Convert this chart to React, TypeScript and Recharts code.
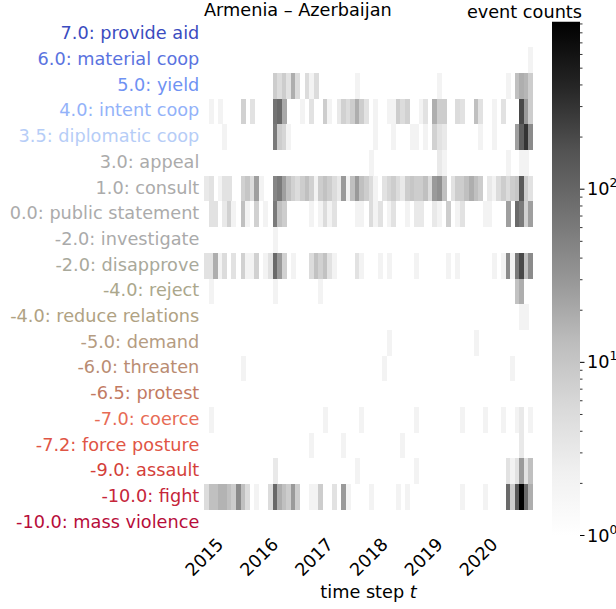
import React from 'react';
import { BarChart, Bar, XAxis, YAxis, Cell } from 'recharts';

// event categories, top to bottom
const categories = [
  '7.0: provide aid',
  '6.0: material coop',
  '5.0: yield',
  '4.0: intent coop',
  '3.5: diplomatic coop',
  '3.0: appeal',
  '1.0: consult',
  '0.0: public statement',
  '-2.0: investigate',
  '-2.0: disapprove',
  '-4.0: reject',
  '-4.0: reduce relations',
  '-5.0: demand',
  '-6.0: threaten',
  '-6.5: protest',
  '-7.0: coerce',
  '-7.2: force posture',
  '-9.0: assault',
  '-10.0: fight',
  '-10.0: mass violence',
];

const labelColors = [
  '#3b4cc0', '#5a73e0', '#6f92f3', '#93b2f9', '#b6cdf7',
  '#ababab', '#ababab', '#ababab', '#aaaaaa', '#a9a99b',
  '#aba78c', '#b0a283', '#b59c82', '#b98c72', '#c27a62',
  '#e76b55', '#df5545', '#d43f3a', '#c6263a', '#b70d3a',
];

// monthly event counts, one array per category (72 months)
const provideAid = [
  0, 0, 0, 0, 0, 0, 0, 0, 0, 0, 0, 0,
  0, 0, 0, 0, 0, 0, 0, 0, 0, 0, 0, 0,
  0, 0, 0, 0, 0, 0, 0, 0, 0, 0, 0, 0,
  0, 0, 0, 0, 0, 0, 0, 0, 0, 0, 0, 0,
  0, 0, 0, 0, 0, 0, 0, 0, 0, 0, 0, 0,
  0, 0, 0, 0, 0, 0, 0, 0, 0, 0, 0, 0,
];
const materialCoop = [
  0, 0, 0, 0, 0, 0, 0, 0, 0, 0, 0, 0,
  0, 0, 0, 0, 0, 0, 0, 0, 0, 0, 0, 0,
  0, 0, 0, 0, 0, 0, 0, 0, 0, 0, 0, 0,
  0, 0, 0, 0, 0, 0, 0, 0, 0, 0, 0, 0,
  0, 0, 0, 0, 0, 0, 0, 0, 0, 0, 0, 0,
  0, 0, 0, 0, 0, 0, 0, 0, 0, 0, 0, 2,
];
const yieldCounts = [
  0, 0, 0, 0, 0, 0, 0, 0, 0, 0, 0, 0,
  0, 0, 0, 8, 5, 8, 4, 18, 5, 0, 5, 2,
  5, 0, 0, 0, 0, 0, 0, 0, 0, 2, 0, 0,
  0, 0, 0, 0, 0, 0, 0, 0, 0, 0, 0, 0,
  0, 0, 0, 2, 0, 0, 0, 0, 0, 0, 0, 0,
  0, 0, 0, 0, 0, 0, 2, 0, 12, 18, 15, 8,
];
const intentCoop = [
  0, 2, 0, 2, 0, 0, 0, 0, 7, 0, 4, 0,
  0, 0, 0, 70, 90, 20, 0, 0, 0, 2, 0, 4,
  0, 0, 8, 2, 0, 3, 7, 5, 8, 18, 8, 4,
  0, 2, 0, 0, 2, 2, 8, 5, 7, 0, 0, 2,
  4, 0, 18, 8, 8, 0, 0, 5, 4, 0, 0, 12,
  4, 0, 0, 2, 0, 4, 0, 0, 0, 200, 28, 8,
];
const diplomaticCoop = [
  0, 0, 0, 0, 2, 0, 0, 0, 0, 0, 0, 0,
  0, 0, 0, 60, 8, 6, 2, 0, 0, 0, 0, 0,
  0, 0, 0, 0, 0, 0, 0, 0, 0, 0, 0, 0,
  0, 2, 0, 0, 0, 2, 0, 0, 0, 2, 2, 0,
  2, 0, 7, 4, 3, 0, 0, 0, 0, 0, 0, 0,
  2, 0, 0, 2, 0, 0, 0, 0, 25, 120, 300, 40,
];
const appeal = [
  0, 0, 0, 0, 0, 0, 0, 0, 0, 0, 0, 0,
  0, 0, 0, 0, 0, 0, 0, 0, 0, 0, 0, 0,
  0, 0, 0, 0, 0, 0, 0, 0, 0, 0, 0, 0,
  2, 0, 0, 0, 0, 0, 0, 0, 0, 0, 0, 0,
  0, 0, 0, 3, 2, 0, 0, 0, 0, 0, 0, 0,
  0, 0, 0, 0, 0, 0, 2, 0, 0, 2, 2, 0,
];
const consult = [
  3, 4, 0, 2, 4, 4, 0, 0, 7, 10, 5, 25,
  2, 0, 0, 45, 60, 25, 12, 7, 5, 8, 12, 7,
  2, 8, 11, 8, 5, 3, 28, 2, 12, 28, 12, 8,
  5, 2, 0, 4, 6, 8, 5, 3, 8, 10, 8, 8,
  12, 5, 28, 35, 12, 0, 4, 8, 8, 12, 18, 12,
  8, 0, 3, 2, 5, 8, 5, 8, 10, 140, 8, 4,
];
const publicStatement = [
  0, 4, 4, 0, 3, 7, 2, 0, 12, 2, 0, 7,
  0, 2, 0, 60, 12, 8, 0, 0, 0, 0, 0, 2,
  0, 2, 5, 2, 4, 0, 0, 0, 0, 2, 2, 0,
  5, 2, 4, 0, 2, 4, 0, 0, 2, 0, 3, 3,
  0, 0, 3, 2, 0, 8, 0, 2, 4, 0, 0, 0,
  0, 2, 2, 0, 0, 0, 25, 0, 90, 60, 7, 25,
];
const investigate = [
  0, 0, 0, 0, 0, 0, 0, 0, 0, 0, 0, 0,
  0, 0, 0, 2, 0, 0, 0, 0, 0, 0, 0, 0,
  0, 0, 0, 0, 0, 0, 0, 0, 0, 0, 0, 0,
  0, 0, 0, 0, 0, 0, 0, 0, 0, 0, 0, 0,
  0, 0, 0, 0, 0, 0, 0, 0, 0, 0, 0, 0,
  0, 0, 0, 0, 0, 0, 0, 0, 0, 0, 0, 0,
];
const disapprove = [
  4, 4, 18, 2, 5, 0, 4, 0, 7, 2, 2, 7,
  0, 2, 4, 90, 28, 7, 0, 2, 0, 0, 0, 5,
  11, 7, 11, 4, 2, 0, 0, 0, 0, 4, 2, 0,
  0, 0, 2, 0, 2, 0, 0, 0, 0, 0, 2, 0,
  0, 0, 0, 0, 0, 2, 0, 2, 0, 0, 0, 0,
  0, 0, 0, 2, 0, 2, 40, 2, 60, 200, 12, 40,
];
const reject = [
  0, 2, 0, 0, 0, 0, 0, 0, 0, 0, 0, 0,
  0, 0, 0, 2, 0, 0, 0, 0, 0, 0, 0, 0,
  0, 2, 0, 0, 0, 0, 0, 0, 0, 0, 0, 0,
  0, 0, 0, 0, 0, 0, 0, 0, 0, 0, 0, 0,
  0, 0, 0, 0, 0, 0, 0, 0, 0, 0, 0, 0,
  0, 0, 0, 0, 0, 0, 0, 0, 11, 18, 0, 0,
];
const reduceRelations = [
  0, 0, 0, 0, 0, 0, 0, 0, 0, 0, 0, 0,
  0, 0, 0, 0, 0, 0, 0, 0, 0, 0, 0, 0,
  0, 0, 0, 0, 0, 0, 0, 0, 0, 0, 0, 0,
  0, 0, 0, 0, 0, 0, 0, 0, 0, 0, 0, 0,
  0, 0, 0, 0, 0, 0, 0, 0, 0, 0, 0, 0,
  0, 0, 0, 0, 0, 0, 0, 0, 0, 2, 2, 0,
];
const demand = [
  0, 0, 0, 0, 0, 0, 0, 0, 0, 0, 0, 0,
  0, 0, 0, 0, 0, 0, 0, 0, 0, 0, 0, 0,
  0, 0, 0, 0, 0, 0, 0, 0, 0, 0, 0, 0,
  0, 0, 0, 0, 2, 0, 0, 0, 0, 0, 0, 0,
  0, 0, 0, 0, 0, 0, 0, 0, 0, 0, 0, 2,
  0, 0, 0, 0, 0, 0, 0, 0, 0, 0, 0, 0,
];
const threaten = [
  0, 0, 0, 0, 0, 0, 0, 0, 2, 0, 0, 0,
  0, 0, 0, 0, 0, 0, 0, 0, 0, 0, 0, 0,
  0, 0, 0, 0, 0, 0, 0, 0, 0, 0, 0, 0,
  0, 0, 0, 2, 0, 0, 0, 0, 0, 0, 0, 0,
  0, 0, 0, 0, 0, 0, 0, 0, 0, 0, 0, 0,
  0, 0, 0, 0, 0, 0, 0, 2, 0, 0, 0, 0,
];
const protest = [
  0, 0, 0, 0, 0, 0, 0, 0, 0, 0, 0, 0,
  0, 0, 0, 0, 0, 0, 0, 0, 0, 0, 0, 0,
  0, 0, 0, 0, 0, 0, 0, 0, 0, 0, 0, 0,
  0, 0, 0, 0, 0, 0, 0, 0, 0, 0, 0, 0,
  0, 0, 0, 0, 0, 0, 0, 0, 0, 0, 0, 0,
  0, 0, 0, 0, 0, 0, 0, 0, 0, 0, 0, 0,
];
const coerce = [
  0, 2, 0, 0, 0, 0, 0, 0, 0, 0, 0, 0,
  0, 0, 0, 0, 0, 0, 0, 0, 0, 0, 0, 0,
  0, 0, 2, 0, 0, 0, 0, 0, 0, 0, 2, 0,
  0, 0, 0, 0, 0, 0, 0, 0, 0, 0, 2, 0,
  0, 0, 0, 0, 0, 0, 0, 0, 2, 0, 0, 0,
  0, 2, 0, 0, 0, 2, 0, 0, 2, 3, 0, 2,
];
const forcePosture = [
  0, 0, 0, 0, 0, 0, 0, 0, 0, 0, 0, 0,
  0, 0, 0, 0, 0, 0, 0, 0, 0, 0, 0, 2,
  0, 0, 0, 0, 0, 0, 2, 0, 0, 0, 0, 0,
  0, 0, 0, 0, 0, 0, 0, 2, 0, 0, 0, 0,
  0, 0, 0, 0, 0, 0, 0, 0, 0, 0, 0, 0,
  0, 0, 0, 0, 0, 0, 0, 0, 0, 3, 0, 0,
];
const assault = [
  0, 0, 0, 0, 0, 0, 0, 0, 0, 0, 0, 0,
  0, 0, 0, 3, 0, 0, 0, 0, 0, 0, 0, 0,
  0, 0, 0, 0, 0, 0, 0, 0, 0, 2, 0, 0,
  0, 0, 0, 0, 0, 0, 0, 0, 0, 0, 2, 0,
  0, 0, 0, 0, 0, 0, 0, 0, 0, 0, 0, 0,
  0, 0, 0, 0, 0, 0, 4, 2, 4, 28, 4, 12,
];
const fight = [
  5, 12, 12, 16, 16, 12, 8, 40, 12, 5, 0, 2,
  0, 0, 5, 95, 18, 12, 8, 28, 8, 0, 0, 2,
  2, 8, 0, 0, 4, 0, 28, 2, 0, 0, 0, 0,
  2, 0, 0, 0, 0, 0, 2, 0, 2, 0, 0, 0,
  0, 0, 0, 0, 0, 0, 0, 0, 2, 0, 0, 0,
  0, 2, 0, 0, 0, 0, 90, 8, 140, 900, 90, 18,
];
const massViolence = [
  0, 0, 0, 0, 0, 0, 0, 0, 0, 0, 0, 0,
  0, 0, 0, 0, 0, 0, 0, 0, 0, 0, 0, 0,
  0, 0, 0, 0, 0, 0, 0, 0, 0, 0, 0, 0,
  0, 0, 0, 0, 0, 0, 0, 0, 0, 0, 0, 0,
  0, 0, 0, 0, 0, 0, 0, 0, 0, 0, 0, 0,
  0, 0, 0, 0, 0, 0, 0, 0, 0, 0, 0, 0,
];

const rows = [
  provideAid, materialCoop, yieldCounts, intentCoop, diplomaticCoop,
  appeal, consult, publicStatement, investigate, disapprove,
  reject, reduceRelations, demand, threaten, protest,
  coerce, forcePosture, assault, fight, massViolence,
];

// time axis: monthly steps starting Sep 2014
const startYear = 2014;
const startMonth = 9;
const yearLabels = ['2015', '2016', '2017', '2018', '2019', '2020'];
const months = provideAid.map((_, i) => {
  const m = startMonth - 1 + i;
  return `${startYear + Math.floor(m / 12)}-${String((m % 12) + 1).padStart(2, '0')}`;
});

// colour bar
const vmax = 930;
const colorbarTicks = [
  1, 2, 3, 4, 5, 6, 7, 8, 9,
  10, 20, 30, 40, 50, 60, 70, 80, 90,
  100, 200, 300, 400, 500, 600, 700, 800, 900,
];
const greys = ['#ffffff', '#f0f0f0', '#d9d9d9', '#bdbdbd', '#969696', '#737373', '#525252', '#252525', '#000000'];

const FONT = 'DejaVu Sans';
const FS = 17.7;
const W = 616;
const H = 609;
const plotLeft = 204;
const plotRight = 533;
const plotTop = 21.5;
const plotBottom = 535.5;
const xAxisHeight = 60;

const greyFor = (count: number) => {
  if (count <= 1) return 'none';
  const t = Math.min(1, Math.log10(count) / Math.log10(vmax));
  const pos = t * (greys.length - 1);
  const i = Math.min(greys.length - 2, Math.floor(pos));
  const f = pos - i;
  const a = parseInt(greys[i].slice(1, 3), 16);
  const b = parseInt(greys[i + 1].slice(1, 3), 16);
  const v = Math.round(a + (b - a) * f);
  return `rgb(${v},${v},${v})`;
};

const n = categories.length;
const tableData = months.map((m) => {
  const d: any = { month: m };
  rows.forEach((_, r) => (d[`r${r}`] = 1));
  return d;
});
const rowTicks = categories.map((_, r) => n - 0.5 - r);

const YTick = (props: any) => {
  const { x, y, payload } = props;
  const r = Math.round(n - 0.5 - payload.value);
  return (
    <text x={x - 4.7} y={y} dy={5} textAnchor="end" fill={labelColors[r]} fontSize={FS} fontFamily={FONT}>
      {categories[r]}
    </text>
  );
};

const XTick = (props: any) => {
  const { x, y, payload } = props;
  const label = String(payload.value);
  if (!label.endsWith('-01')) return <g />;
  const year = label.slice(0, 4);
  if (!yearLabels.includes(year)) return <g />;
  const tx = x;
  const ty = y + 10;
  return (
    <text x={tx} y={ty} textAnchor="end" fontSize={FS} fontFamily={FONT} fill="#000" transform={`rotate(-45, ${tx}, ${ty})`}>
      {year}
    </text>
  );
};

const CbTick = (props: any) => {
  const { x, y, payload } = props;
  const v = payload.value;
  const exp = Math.log10(v);
  const major = Math.abs(exp - Math.round(exp)) < 1e-9;
  return (
    <g>
      <line x1={x} x2={x + (major ? 4.5 : 2.5)} y1={y} y2={y} stroke="#000" strokeWidth={major ? 1 : 0.8} />
      {major && (
        <text x={x + 7} y={y} dy={6} fontSize={FS} fontFamily={FONT} fill="#000">
          10
          <tspan dy={-8} fontSize={12.4}>{Math.round(exp)}</tspan>
        </text>
      )}
    </g>
  );
};

export default function App() {
  return (
    <div style={{ position: 'absolute', left: 0, top: 0, width: W, height: H, background: '#fff' }}>
      <div style={{ position: 'absolute', left: 0, top: 0 }}>
        <BarChart
          width={W}
          height={H}
          data={tableData}
          barCategoryGap={0}
          barGap={0}
          margin={{ top: plotTop, right: W - plotRight, bottom: H - plotBottom - xAxisHeight, left: 0 }}
        >
          <XAxis
            dataKey="month"
            type="category"
            interval={0}
            height={xAxisHeight}
            axisLine={false}
            tickLine={false}
            tickSize={0}
            tickMargin={0}
            tick={<XTick />}
          />
          <YAxis
            type="number"
            domain={[0, n]}
            ticks={rowTicks}
            interval={0}
            width={plotLeft}
            axisLine={false}
            tickLine={false}
            tickSize={0}
            tickMargin={0}
            tick={<YTick />}
          />
          {rows
            .map((row, r) => ({ row, r }))
            .reverse()
            .map(({ row, r }) => (
              <Bar key={r} dataKey={`r${r}`} stackId="heat" isAnimationActive={false}>
                {row.map((c, i) => (
                  <Cell key={i} fill={greyFor(c)} shapeRendering="crispEdges" />
                ))}
              </Bar>
            ))}
        </BarChart>
      </div>

      <div style={{ position: 'absolute', left: 0, top: 0 }}>
        <BarChart
          width={W}
          height={H}
          data={[{ name: 'counts', range: [1, vmax] }]}
          barCategoryGap={0}
          margin={{ top: plotTop, right: 0, bottom: H - plotBottom, left: 552 }}
        >
          <defs>
            <linearGradient id="cbGrad" x1="0" y1="0" x2="0" y2="1">
              {greys
                .slice()
                .reverse()
                .map((c, i) => (
                  <stop key={i} offset={i / (greys.length - 1)} stopColor={c} />
                ))}
            </linearGradient>
          </defs>
          <XAxis dataKey="name" hide />
          <YAxis
            type="number"
            scale="log"
            domain={[1, vmax]}
            allowDataOverflow
            orientation="right"
            ticks={colorbarTicks}
            interval={0}
            width={36}
            axisLine={false}
            tickLine={false}
            tickSize={0}
            tickMargin={0}
            tick={<CbTick />}
          />
          <Bar dataKey="range" fill="url(#cbGrad)" isAnimationActive={false} />
        </BarChart>
      </div>

      <svg width={W} height={H} style={{ position: 'absolute', left: 0, top: 0, pointerEvents: 'none' }}>
        <text x={plotLeft} y={16} fontSize={FS} fontFamily={FONT} fill="#000">
          Armenia – Azerbaijan
        </text>
        <text x={582} y={18} textAnchor="end" fontSize={FS} fontFamily={FONT} fill="#000">
          event counts
        </text>
        <text x={(plotLeft + plotRight) / 2} y={598} textAnchor="middle" fontSize={FS} fontFamily={FONT} fill="#000">
          time step <tspan fontStyle="italic">t</tspan>
        </text>
      </svg>
    </div>
  );
}
